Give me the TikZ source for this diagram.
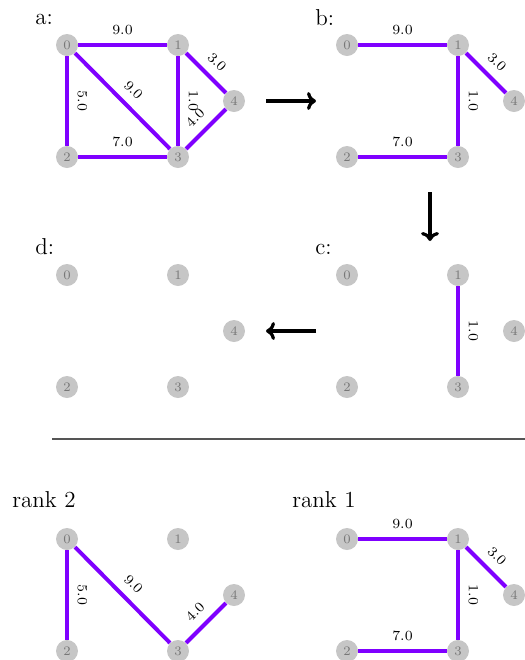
\documentclass[tikz,border=0pt]{standalone}
\usepackage{tikz}
\usetikzlibrary{arrows.meta, positioning, calc}
\definecolor{vertfill}{HTML}{C6C6C6}
\definecolor{vertink}{HTML}{777777}
\definecolor{edgeviolet}{HTML}{7F00FF}
\definecolor{ruleink}{HTML}{555555}

\begin{document}
\begin{tikzpicture}[x=0.5pt, y=-0.5pt,
    vert/.style={circle, fill=vertfill, draw=none, text=vertink,
                 minimum size=11pt, inner sep=0pt,
                 font=\fontsize{6.5}{7}\selectfont},
    edge/.style={edgeviolet, line width=2pt},
    wt/.style={sloped, above=1pt, allow upside down, text=black,
               font=\fontsize{7}{8}\selectfont},
    ttl/.style={anchor=base west, inner sep=0pt,
                font=\fontsize{11.5}{13}\selectfont},
    step arrow/.style={-{To[length=4.5pt, width=9pt]}, line width=1.6pt}]
  \useasboundingbox (0,0) rectangle (525,660);
  % vertices of the six panels
  \foreach \p/\ox/\oy in {a/0/0, b/280/0, c/280/230, d/0/230, r/0/494, s/280/494}{%
    \foreach \k/\dx/\dy in {0/0/0, 1/111/0, 2/0/112, 3/111/112, 4/167/56}
      \node[vert] (\p\k) at (67+\ox+\dx, 45+\oy+\dy) {\k};}
  % weighted edges
  \foreach \p/\u/\v/\w in {a/0/1/9.0, a/0/2/5.0, a/0/3/9.0, a/1/3/1.0,
      a/1/4/3.0, a/2/3/7.0, a/3/4/4.0,
      b/0/1/9.0, b/1/3/1.0, b/1/4/3.0, b/2/3/7.0,
      c/1/3/1.0,
      r/0/2/5.0, r/0/3/9.0, r/3/4/4.0,
      s/0/1/9.0, s/1/3/1.0, s/1/4/3.0, s/2/3/7.0}
    \draw[edge] (\p\u) -- node[wt] {\w} (\p\v);
  % panel titles
  \node[ttl] (la) at (35,24) {a:};
  \node[ttl] (lb) at (315,25) {b:};
  \node[ttl] (lc) at (315,254) {c:};
  \node[ttl] (ld) at (35,254) {d:};
  \node[ttl] (lr2) at (12,507) {rank 2};
  \node[ttl] (lr1) at (292,507) {rank 1};
  % steps between panels
  \coordinate (ab1) at (266,101);
  \coordinate (ab2) at (316,101);
  \coordinate (bc1) at (430,192);
  \coordinate (bc2) at (430,241);
  \coordinate (cd1) at (316,331);
  \coordinate (cd2) at (266,331);
  \draw[step arrow] (ab1) -- (ab2);
  \draw[step arrow] (bc1) -- (bc2);
  \draw[step arrow] (cd1) -- (cd2);
  % separator
  \coordinate (sep1) at (52,439);
  \coordinate (sep2) at (525,439);
  \draw[ruleink, line width=0.6pt] (sep1) -- (sep2);
\end{tikzpicture}
\end{document}
